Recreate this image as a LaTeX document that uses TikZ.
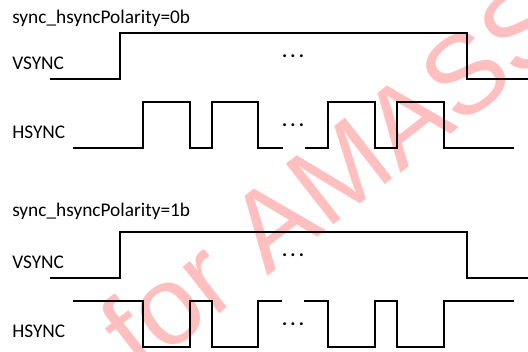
\documentclass[tikz,border=0pt]{standalone}
\usepackage{fontspec}
\setmainfont{Carlito}
\newfontfamily\markfont{Liberation Sans}
\tikzset{
  wave/.style={line width=1.7pt},
  lbl/.style={anchor=base west,inner sep=0,font=\fontsize{14.5}{17}\selectfont},
  more/.style={inner sep=0,font=\bfseries\fontsize{14.5}{17}\selectfont},
}
\newcommand{\moredots}{.\hskip2.4pt.\hskip2.4pt.}

\begin{document}
\begin{tikzpicture}[x=7.5pt,y=-7.5pt]
  \useasboundingbox (0,0) rectangle (52.8,35.1);
  \begin{scope}
    \clip (0,0) rectangle (52.8,35.1);
    \node (mark) at (33.4,17.4) [rotate=38,text=red!25,font=\markfont\fontsize{84}{100}\selectfont]{for AMASS};
  \end{scope}

  \node (pol0) at (1.2,2.33) [lbl]{sync\_hsyncPolarity=0b};
  \node (vs0) at (1.2,6.9) [lbl]{VSYNC};
  \node (hs0) at (1.2,13.8) [lbl]{HSYNC};
  \node (vdots0) at (29.3,5.6) [more]{\moredots};
  \node (hdots0) at (29.3,12.5) [more]{\moredots};

  \draw[wave] (5.0,7.9) -- (12.0,7.9) -- (12.0,3.3) -- (46.7,3.3) -- (46.7,7.9) -- (52.8,7.9);
  \draw[wave] (7.3,14.8) -- (14.3,14.8) -- (14.3,10.2) -- (19.0,10.2) -- (19.0,14.8)
    -- (21.2,14.8) -- (21.2,10.2) -- (25.8,10.2) -- (25.8,14.8) -- (28.3,14.8);
  \draw[wave] (30.5,14.8) -- (32.8,14.8) -- (32.8,10.2) -- (37.5,10.2) -- (37.5,14.8)
    -- (39.7,14.8) -- (39.7,10.2) -- (44.4,10.2) -- (44.4,14.8) -- (51.4,14.8);

  \node (pol1) at (1.2,21.67) [lbl]{sync\_hsyncPolarity=1b};
  \node (vs1) at (1.2,26.8) [lbl]{VSYNC};
  \node (hs1) at (1.2,33.7) [lbl]{HSYNC};
  \node (vdots1) at (29.3,25.5) [more]{\moredots};
  \node (hdots1) at (29.3,32.4) [more]{\moredots};

  \draw[wave] (5.0,27.8) -- (12.0,27.8) -- (12.0,23.2) -- (46.7,23.2) -- (46.7,27.8) -- (52.8,27.8);
  \draw[wave] (7.3,30.1) -- (14.3,30.1) -- (14.3,34.7) -- (19.0,34.7) -- (19.0,30.1)
    -- (21.2,30.1) -- (21.2,34.7) -- (25.8,34.7) -- (25.8,30.1) -- (28.2,30.1);
  \draw[wave] (30.4,30.1) -- (32.8,30.1) -- (32.8,34.7) -- (37.5,34.7) -- (37.5,30.1)
    -- (39.7,30.1) -- (39.7,34.7) -- (44.4,34.7) -- (44.4,30.1) -- (51.4,30.1);

\end{tikzpicture}
\end{document}
